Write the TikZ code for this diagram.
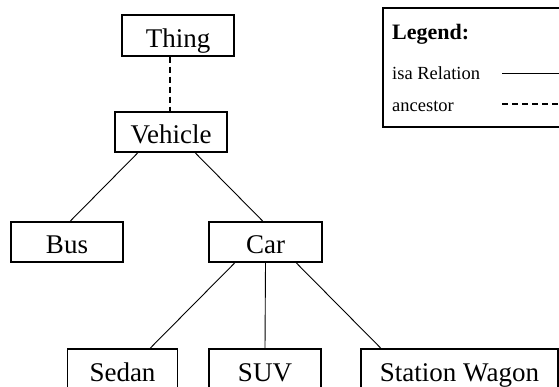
\documentclass[tikz,border=0pt]{standalone}
\usepackage{fontspec}
\setmainfont{Liberation Serif}
\begin{document}
\begin{tikzpicture}[x=1pt,y=-1pt,
  concept/.style={draw,line width=1.2pt,inner sep=0pt,minimum height=40pt,
    text height=24pt,text depth=0pt,
    font=\fontsize{27}{30}\selectfont},
  isa/.style={line width=0.9pt},
  anc/.style={line width=1.1pt,dash pattern=on 6pt off 4pt},
  legtext/.style={anchor=base west,inner sep=0pt,font=\fontsize{18.5}{20}\selectfont}]
\useasboundingbox (0,0) rectangle (559,387);
\clip (0,0) rectangle (559,387);
\fill[white] (0,0) rectangle (559,387);
% concepts
\node[concept,minimum width=112pt,minimum height=41pt] (thing) at (178,35.5) {Thing};
\node[concept,minimum width=112pt] (vehicle) at (171,132) {Vehicle};
\node[concept,minimum width=112pt] (bus) at (67,242) {Bus};
\node[concept,minimum width=113pt] (car) at (265.5,242) {Car};
\node[concept,minimum width=110pt] (sedan) at (122.5,369) {Sedan};
\node[concept,minimum width=112pt] (suv) at (265,369) {SUV};
\node[concept,minimum width=197pt] (sw) at (459.5,369) {Station Wagon};
% connectors
\draw[anc] ([xshift=-8pt]thing.south) -- ([xshift=-1pt]vehicle.north);
\draw[isa] ([xshift=-33pt]vehicle.south) -- ([xshift=3pt]bus.north);
\draw[isa] ([xshift=24pt]vehicle.south) -- ([xshift=-2.5pt]car.north);
\draw[isa] ([xshift=-30.5pt]car.south) -- ([xshift=27.5pt]sedan.north);
\draw[isa] (car.south) -- (suv.north);
\draw[isa] ([xshift=30.5pt]car.south) -- ([xshift=-78.5pt]sw.north);
% legend
\node[draw,line width=1.2pt,minimum width=190pt,minimum height=119pt,inner sep=0pt] (legend) at (478,67.5) {};
\node[legtext,font=\fontsize{22}{24}\selectfont\bfseries] (legtitle) at (392,40) {Legend:};
\node[legtext] (legisa) at (392,80) {isa Relation};
\node[legtext] (leganc) at (392,112) {ancestor};
\coordinate (isaA) at (502,73);
\coordinate (isaB) at (560,73);
\coordinate (ancA) at (502,104);
\coordinate (ancB) at (560,104);
\draw[isa] (isaA) -- (isaB);
\draw[anc] (ancA) -- (ancB);
\end{tikzpicture}
\end{document}
